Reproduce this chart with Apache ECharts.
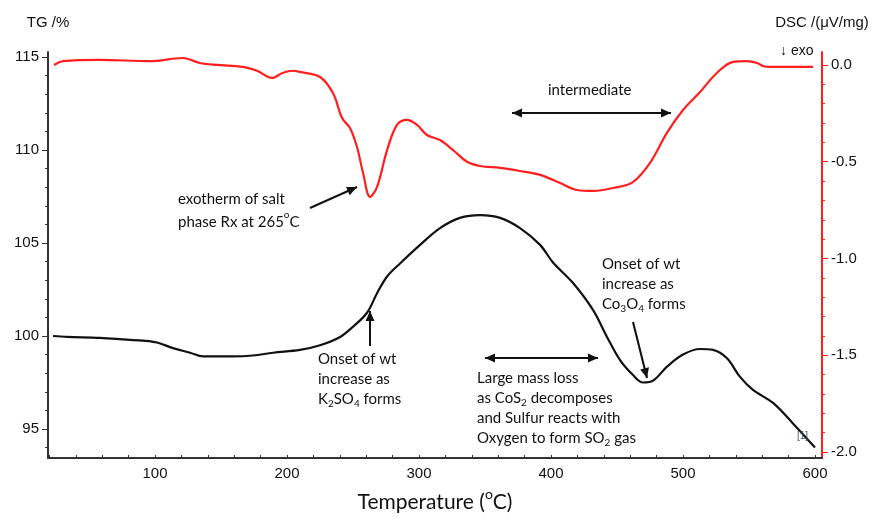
<!DOCTYPE html>
<html>
<head>
<meta charset="utf-8">
<script src="https://cdn.jsdelivr.net/npm/echarts@6/dist/echarts.min.js"></script>
<style>
  html, body { margin: 0; padding: 0; background: #fff; }
  #chart { width: 872px; height: 520px; }
</style>
</head>
<body>
<div id="chart"></div>
<script>
// DSC signal (µV/mg, right axis) against temperature (°C)
const dscTemp = [23.5, 30.3, 58.3, 96.2, 121.2, 134, 147, 166.7, 177.3, 188.6, 197, 204.5, 209.8, 225,
  234.8, 241.7, 247.7, 253, 257.6, 262.9, 268.2, 275.8, 283.3, 290.9, 298.5, 306, 315.9, 325.8, 336.4,
  346.2, 361.4, 376.5, 391.7, 406.8, 419.7, 431.8, 447, 462, 475, 487.9, 500, 512.9, 525.8, 537.9,
  548.5, 556, 560.6, 565, 598.5];
const dscValues = [0.0, 0.02, 0.026, 0.02, 0.036, 0.01, 0.0, -0.01, -0.03, -0.067, -0.04, -0.03, -0.036, -0.062,
  -0.145, -0.274, -0.326, -0.424, -0.558, -0.682, -0.63, -0.44, -0.31, -0.284, -0.31, -0.362, -0.388, -0.44, -0.5,
  -0.522, -0.532, -0.548, -0.568, -0.61, -0.646, -0.651, -0.636, -0.605, -0.506, -0.35, -0.233, -0.14, -0.04, 0.016,
  0.02, 0.01, -0.005, -0.01, -0.01];

// TG mass (% of initial, left axis) against temperature (°C)
const tgTemp = [22.7, 33.3, 58.3, 78.8, 90.9, 101.5, 113.6, 126.5, 136.4, 147, 159, 174.2, 189.4, 209.8,
  225, 240.2, 250, 260.6, 268.2, 275.8, 285.6, 300.8, 315.9, 331, 346.2, 361.4, 376.5, 391.7, 401.5,
  416.7, 431.8, 442.4, 452.3, 462.1, 469.7, 477.3, 487.9, 500, 512.9, 522.7, 533.3, 543.2, 553, 568.2,
  583.3, 600];
const tgValues = [100.0, 99.95, 99.9, 99.8, 99.75, 99.65, 99.35, 99.1, 98.9, 98.9, 98.9, 98.95, 99.1, 99.25,
  99.5, 99.95, 100.5, 101.25, 102.3, 103.2, 103.9, 104.9, 105.8, 106.35, 106.5, 106.35, 105.8, 104.9, 103.95,
  102.85, 101.4, 99.95, 98.7, 97.9, 97.5, 97.6, 98.35, 99.0, 99.3, 99.25, 98.8, 97.8, 97.1, 96.4,
  95.3, 94.0];

// Tick positions
const xTicks = [20, 40, 60, 80, 100, 120, 140, 160, 180, 200, 220, 240, 260, 280, 300, 320, 340, 360, 380,
  400, 420, 440, 460, 480, 500, 520, 540, 560, 580, 600];
const xLabels = [100, 200, 300, 400, 500, 600];
const tgLabels = [95, 100, 105, 110, 115];
const tgMinor = [94, 96, 97, 98, 99, 101, 102, 103, 104, 106, 107, 108, 109, 111, 112, 113, 114];
const dscLabels = [0.0, -0.5, -1.0, -1.5, -2.0];
const dscMinor = [-0.1, -0.2, -0.3, -0.4, -0.6, -0.7, -0.8, -0.9, -1.1, -1.2, -1.3, -1.4,
  -1.6, -1.7, -1.8, -1.9];

const pair = (xs, ys) => xs.map((x, i) => [x, ys[i]]);

const TICK_FONT = '"Liberation Sans", Arial, sans-serif';
const NOTE_FONT = 'Lato, "Open Sans", sans-serif';
const AXIS_GRAY = '#333';
const RED = '#ff1f1f';
const INK = '#111';

const X_MIN = 18.9, X_MAX = 605.3;
const TG_MIN = 93.44, TG_MAX = 115.27;
const DSC_MIN = -2.031, DSC_MAX = 0.067;

const chart = echarts.init(document.getElementById('chart'), null, { renderer: 'canvas' });

const richNote = {
  sub: { fontSize: 10, fontFamily: NOTE_FONT, color: INK, verticalAlign: 'bottom', lineHeight: 18 },
  sup: { fontSize: 10, fontFamily: NOTE_FONT, color: INK, verticalAlign: 'top', lineHeight: 24 }
};

function note(x, y, text, lh) {
  return {
    type: 'text', left: x, top: y, z: 10,
    style: {
      text: text, fill: INK, fontSize: 15, fontFamily: NOTE_FONT,
      lineHeight: lh || 20, rich: richNote
    }
  };
}

function head(tx, ty, fx, fy) {
  const a = Math.atan2(ty - fy, tx - fx);
  const L = 10, W = 4.5;
  const bx = tx - L * Math.cos(a), by = ty - L * Math.sin(a);
  return {
    type: 'polygon', z: 10,
    shape: { points: [[tx, ty],
      [bx + W * Math.sin(a), by - W * Math.cos(a)],
      [bx - W * Math.sin(a), by + W * Math.cos(a)]] },
    style: { fill: INK }
  };
}

function arrow(x1, y1, x2, y2, both) {
  const els = [{
    type: 'line', z: 10,
    shape: { x1: x1, y1: y1, x2: x2, y2: y2 },
    style: { stroke: INK, lineWidth: 2 }
  }, head(x2, y2, x1, y1)];
  if (both) els.push(head(x1, y1, x2, y2));
  return { type: 'group', children: els };
}

const option = {
  animation: false,
  backgroundColor: '#fff',
  grid: { left: 48, right: 50, top: 52, bottom: 62, containLabel: false, outerBoundsMode: 'none' },
  xAxis: {
    type: 'value', min: X_MIN, max: X_MAX,
    name: 'Temperature ({sup|o}C)', nameLocation: 'middle', nameGap: 44,
    nameTextStyle: {
      fontFamily: NOTE_FONT, fontSize: 21, color: INK, verticalAlign: 'middle', lineHeight: 26,
      rich: { sup: { fontFamily: NOTE_FONT, fontSize: 14, color: INK, verticalAlign: 'top', lineHeight: 30 } }
    },
    axisLine: { show: true, onZero: false, lineStyle: { color: AXIS_GRAY, width: 2 } },
    axisTick: { show: true, inside: true, length: 3, customValues: xTicks, lineStyle: { color: AXIS_GRAY, width: 1 } },
    axisLabel: { customValues: xLabels, fontFamily: TICK_FONT, fontSize: 15, color: INK, margin: 8 },
    splitLine: { show: false }
  },
  yAxis: [{
    type: 'value', min: TG_MIN, max: TG_MAX, position: 'left',
    name: 'TG /%', nameLocation: 'end', nameGap: 29,
    nameTextStyle: { fontFamily: TICK_FONT, fontSize: 15, color: INK, align: 'center', verticalAlign: 'middle' },
    axisLine: { show: true, onZero: false, lineStyle: { color: AXIS_GRAY, width: 2 } },
    axisTick: { show: true, length: 6, customValues: tgLabels, lineStyle: { color: AXIS_GRAY, width: 1 } },
    axisLabel: { customValues: tgLabels, fontFamily: TICK_FONT, fontSize: 15, color: INK, margin: 9 },
    splitLine: { show: false }
  }, {
    type: 'value', min: DSC_MIN, max: DSC_MAX, position: 'right',
    name: 'DSC /(μV/mg)', nameLocation: 'end', nameGap: 29,
    nameTextStyle: { fontFamily: TICK_FONT, fontSize: 15, color: INK, align: 'center', verticalAlign: 'middle' },
    axisLine: { show: true, onZero: false, lineStyle: { color: RED, width: 2 } },
    axisTick: { show: true, length: 6, customValues: dscLabels, lineStyle: { color: RED, width: 1 } },
    axisLabel: {
      customValues: dscLabels, fontFamily: TICK_FONT, fontSize: 15, color: INK, margin: 9,
      formatter: v => v.toFixed(1)
    },
    splitLine: { show: false }
  }, {
    // minor ticks of the TG axis
    type: 'value', min: TG_MIN, max: TG_MAX, position: 'left',
    axisLine: { show: false, onZero: false },
    axisTick: { show: true, length: 3, customValues: tgMinor, lineStyle: { color: AXIS_GRAY, width: 1 } },
    axisLabel: { show: false },
    splitLine: { show: false }
  }, {
    // minor ticks of the DSC axis
    type: 'value', min: DSC_MIN, max: DSC_MAX, position: 'right',
    axisLine: { show: false, onZero: false },
    axisTick: { show: true, length: 3, customValues: dscMinor, lineStyle: { color: RED, width: 1 } },
    axisLabel: { show: false },
    splitLine: { show: false }
  }],
  series: [{
    name: 'DSC', type: 'line', yAxisIndex: 1,
    data: pair(dscTemp, dscValues),
    showSymbol: false, smooth: 0.35, z: 3,
    lineStyle: { color: RED, width: 2.2 }
  }, {
    name: 'TG', type: 'line', yAxisIndex: 0,
    data: pair(tgTemp, tgValues),
    showSymbol: false, smooth: 0.35, z: 4,
    lineStyle: { color: '#111', width: 2.2 }
  }],
  graphic: [
    note(178, 189, 'exotherm of salt\nphase Rx at 265{sup|o}C', 21),
    arrow(310, 208, 357, 187),
    { type: 'text', left: 548, top: 83, z: 10,
      style: { text: 'intermediate', fill: INK, fontSize: 15, fontFamily: NOTE_FONT } },
    arrow(512, 113, 671, 113, true),
    note(318, 349, 'Onset of wt\nincrease as\nK{sub|2}SO{sub|4} forms'),
    arrow(370, 346, 370, 311),
    arrow(485, 358, 598, 358, true),
    note(477, 368, 'Large mass loss\nas CoS{sub|2} decomposes\nand Sulfur reacts with\nOxygen to form SO{sub|2} gas'),
    note(602, 254, 'Onset of wt\nincrease as\nCo{sub|3}O{sub|4} forms'),
    arrow(633, 322, 647, 378),
    { type: 'text', left: 780, top: 44, z: 10,
      style: { text: '↓ exo', fill: INK, fontSize: 14, fontFamily: TICK_FONT } },
    { type: 'text', left: 797, top: 431, z: 10,
      style: { text: '[1]', fill: '#4a5670', fontSize: 10, fontFamily: TICK_FONT } }
  ]
};

chart.setOption(option);
</script>
</body>
</html>
